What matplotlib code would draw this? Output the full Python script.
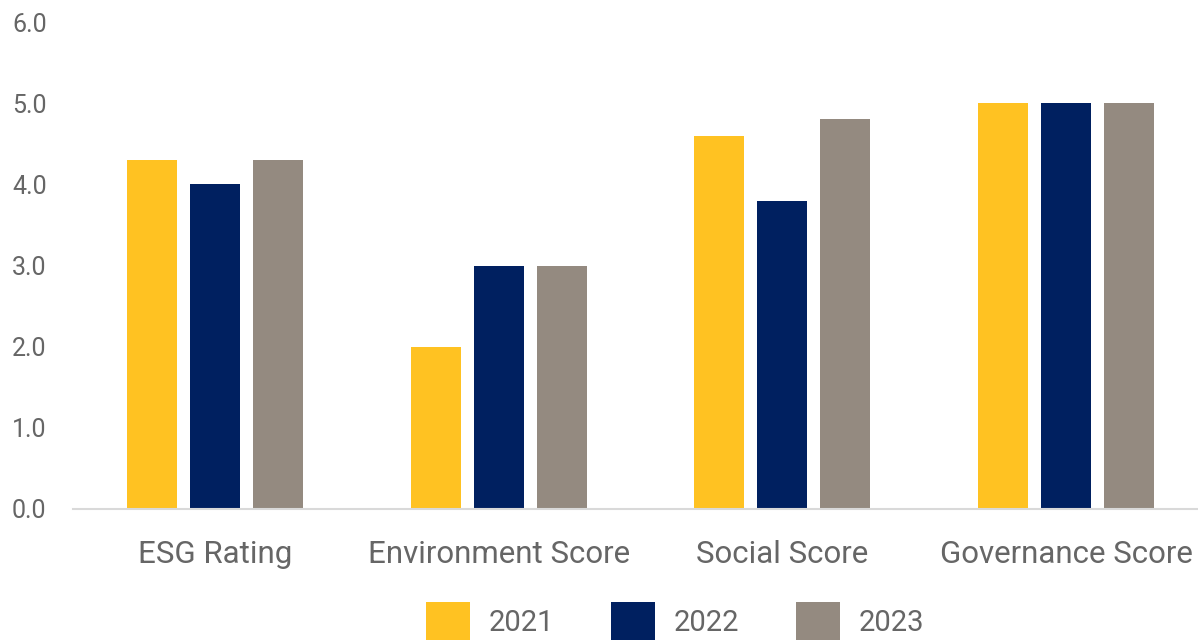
import matplotlib
matplotlib.use("Agg")
import matplotlib.pyplot as plt
import numpy as np

categories = ["ESG Rating", "Environment Score", "Social Score", "Governance Score"]
years = ["2021", "2022", "2023"]
values_2021 = [4.3, 2.0, 4.6, 5.0]
values_2022 = [4.0, 3.0, 3.8, 5.0]
values_2023 = [4.3, 3.0, 4.8, 5.0]
colors = ["#FFC222", "#002060", "#948A80"]
text_color = "#666666"

plt.rcParams['font.family'] = ['Roboto', 'DejaVu Sans']

fig = plt.figure(figsize=(11.98, 6.44), dpi=100)
ax = fig.add_axes([73/1198, 135/644, (1208-73)/1198, (509-22)/644])

x = np.arange(len(categories))
w = 0.176
step = 0.222
series = [values_2021, values_2022, values_2023]
for i, (vals, yr, c) in enumerate(zip(series, years, colors)):
    ax.bar(x + (i - 1) * step, vals, width=w, color=c, label=yr, zorder=2)

ax.set_xlim(-0.5, 3.5)
ax.set_ylim(0, 6)
ticks = np.arange(0, 6.1, 1.0)
ax.set_yticks(ticks)
ax.set_yticklabels([f"{v:.1f}" for v in ticks])
ax.set_xticks(x)
ax.set_xticklabels(categories)
for s in ["top", "right", "left"]:
    ax.spines[s].set_visible(False)
ax.spines["bottom"].set_color("#D9D9D9")
ax.spines["bottom"].set_linewidth(1.5)
ax.tick_params(axis="y", length=0, labelsize=18, labelcolor=text_color, pad=19)
ax.tick_params(axis="x", length=0, labelsize=22.5, labelcolor=text_color, pad=22)

leg = fig.legend(loc="center", bbox_to_anchor=(675/1198, 1 - 621/644), ncol=3,
                 frameon=False, fontsize=21, labelcolor=text_color,
                 handlelength=1.5, handleheight=1.6, columnspacing=1.95, handletextpad=0.65)

fig.savefig("out.png", dpi=100)
